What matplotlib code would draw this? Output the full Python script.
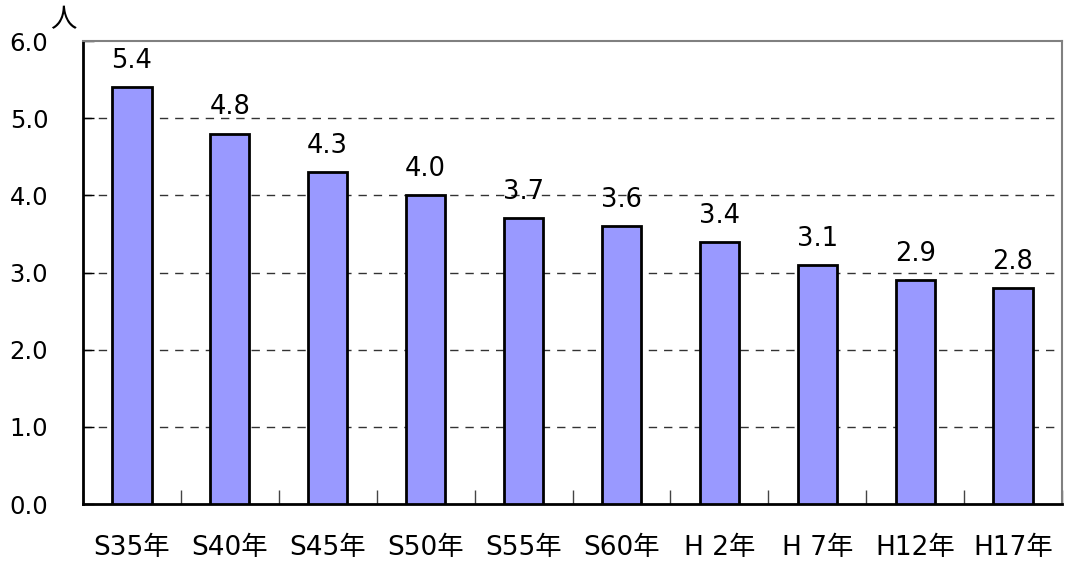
import matplotlib
matplotlib.use("Agg")
import matplotlib.pyplot as plt
import numpy as np

plt.rcParams['font.family'] = ['DejaVu Sans', 'Noto Sans CJK JP']

categories = ["S35年", "S40年", "S45年", "S50年", "S55年", "S60年", "H 2年", "H 7年", "H12年", "H17年"]
values = [5.4, 4.8, 4.3, 4.0, 3.7, 3.6, 3.4, 3.1, 2.9, 2.8]
yticks = [0.0, 1.0, 2.0, 3.0, 4.0, 5.0, 6.0]

fig = plt.figure(figsize=(10.66, 5.61), dpi=100)
ax = fig.add_axes([83/1066, 1-504/561, (1062-83)/1066, (504-41)/561])

x = np.arange(len(categories))
ax.bar(x, values, width=0.4, color='#9999FF', edgecolor='black', linewidth=2, zorder=3)
for xi, v in zip(x, values):
    ax.text(xi, v + 0.17, f"{v:.1f}", ha='center', va='bottom', fontsize=18.5, color='black')

ax.set_xlim(-0.5, len(categories) - 0.5)
ax.set_ylim(0, 6)
ax.set_yticks(yticks)
ax.set_yticklabels([f"{t:.1f}" for t in yticks], fontsize=17.5)
ax.tick_params(axis='y', direction='in', length=8, width=1, pad=25)

ax.set_xticks(x)
ax.set_xticklabels(categories, fontsize=19)
ax.tick_params(axis='x', which='major', length=0, pad=22)
ax.set_xticks(np.arange(len(categories) + 1) - 0.5, minor=True)
ax.tick_params(axis='x', which='minor', direction='in', length=10, width=1, color='#444444')

for t in yticks[1:-1]:
    ax.axhline(t, color='#333333', linestyle=(0, (6, 5)), linewidth=1, zorder=1)

ax.spines['left'].set_color('black')
ax.spines['left'].set_linewidth(2)
ax.spines['bottom'].set_color('black')
ax.spines['bottom'].set_linewidth(2)
ax.spines['top'].set_color('#808080')
ax.spines['top'].set_linewidth(1.5)
ax.spines['right'].set_color('#808080')
ax.spines['right'].set_linewidth(1.5)

fig.text(50/1066, 1-20/561, "人", fontsize=19, ha='left', va='center', family=['Noto Sans CJK JP'])

fig.savefig("out.png", dpi=100)
